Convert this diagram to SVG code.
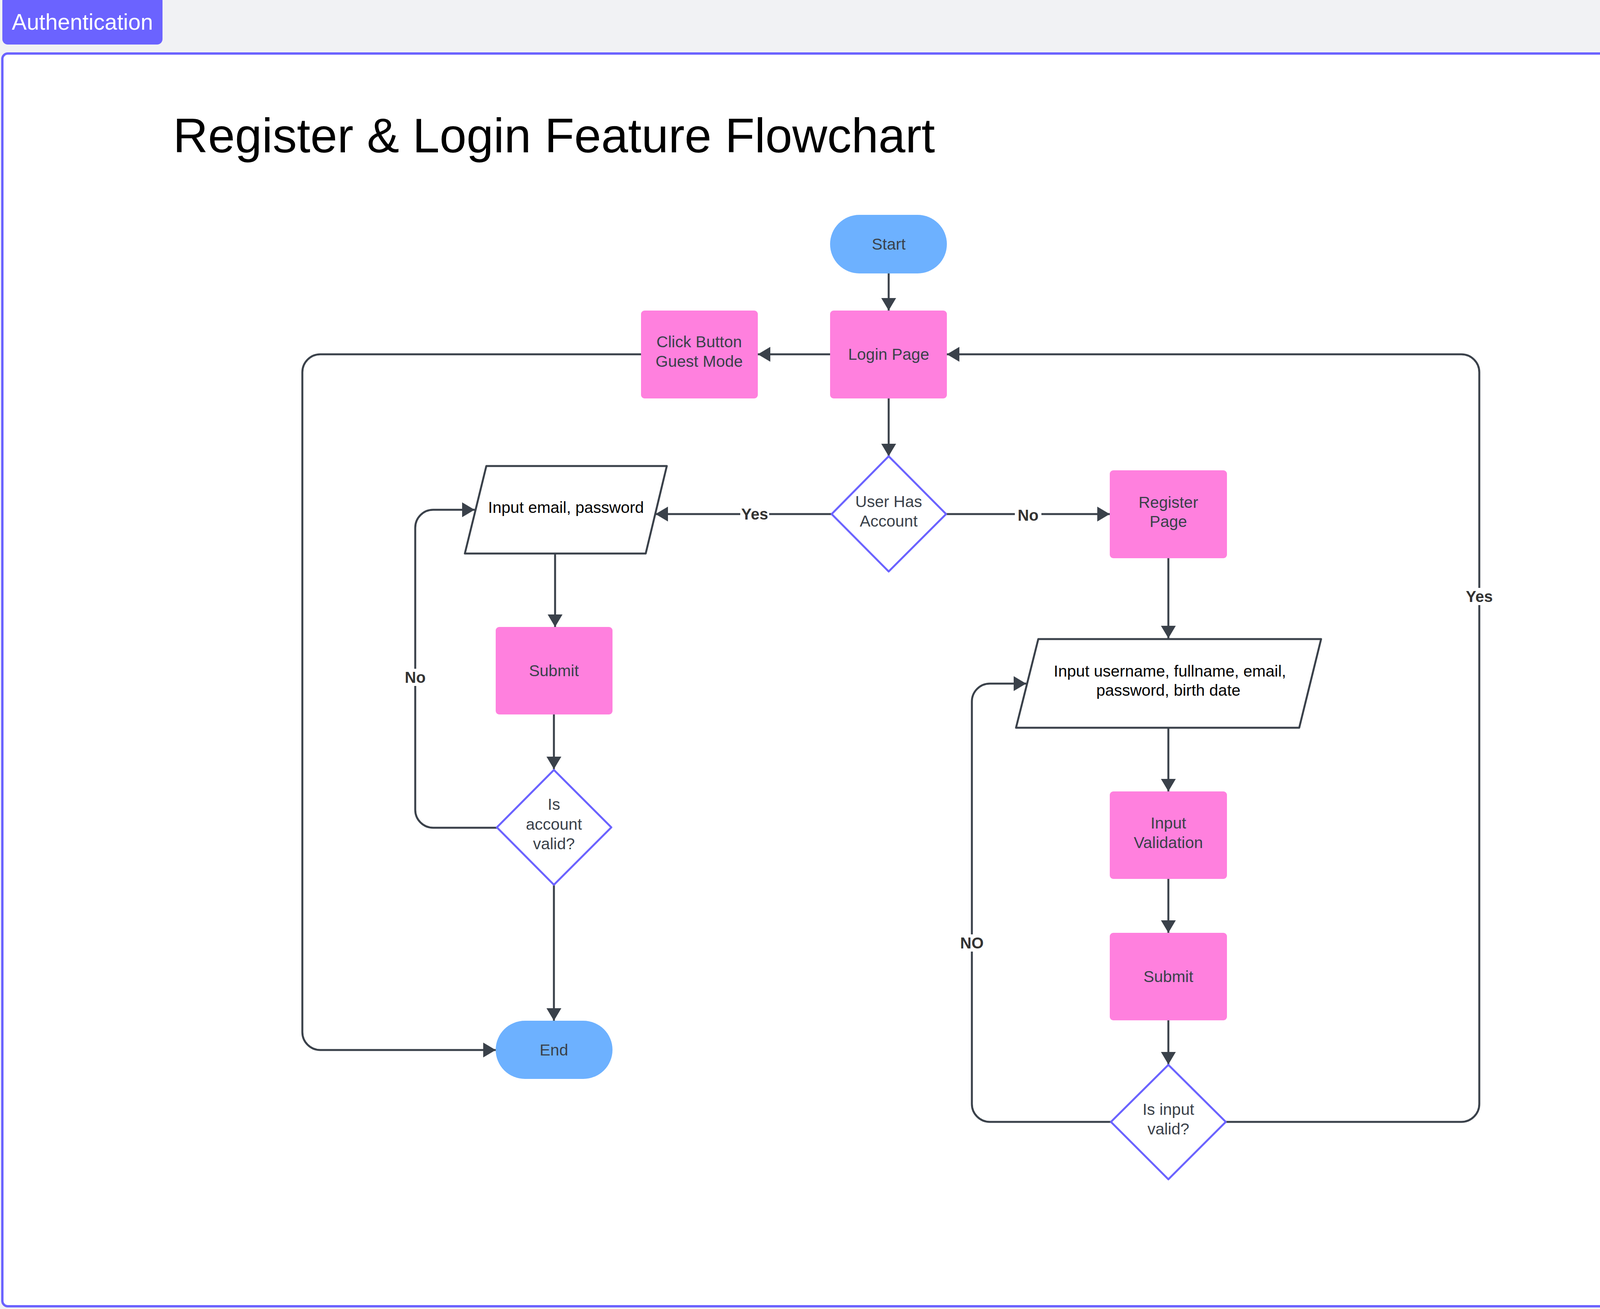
<svg xmlns="http://www.w3.org/2000/svg" width="4550" height="3351" viewBox="0 0 4550 3351">
<style>
.txt{font-family:"Liberation Sans",Arial,sans-serif;font-size:41px;fill:#3a414a;text-anchor:middle}
.ptxt{font-family:"Liberation Sans",Arial,sans-serif;font-size:41px;fill:#000;text-anchor:middle}
.lbl{font-family:"Liberation Sans",Arial,sans-serif;font-size:40px;font-weight:bold;fill:#333333;text-anchor:middle}
.proc{fill:#ff80de}
.term{fill:#6db1ff}
.dec{fill:#fff;stroke:#6b63ff;stroke-width:5;stroke-linejoin:round}
.io{fill:#fff;stroke:#3a414a;stroke-width:5;stroke-linejoin:round}
.con{fill:none;stroke:#3a414a;stroke-width:5}
.arr{marker-end:url(#ah)}
.lbg{fill:#fff}
</style>
<defs>
<marker id="ah" markerUnits="userSpaceOnUse" markerWidth="32" markerHeight="38" refX="32" refY="19" orient="auto">
<path d="M0,0 L32,19 L0,38 z" fill="#3a414a"/>
</marker>
</defs>
<rect x="0" y="0" width="4550" height="3351" fill="#f1f2f4"/>
<g id="tab">
<rect x="6" y="-12" width="410" height="126" rx="14" fill="#6b63ff"/>
<text x="211" y="76" font-family="'Liberation Sans',Arial,sans-serif" font-size="57" fill="#fff" text-anchor="middle">Authentication</text>
</g>
<rect id="frame" x="6" y="137" width="4537" height="3207" rx="14" fill="#fff" stroke="#6b63ff" stroke-width="6"/>
<text id="title" x="443" y="390" font-family="'Liberation Sans',Arial,sans-serif" font-size="124" fill="#000">Register &amp; Login Feature Flowchart</text>

<g id="connectors">
<path class="con arr" d="M2275,700 V795"/>
<path class="con arr" d="M2125,907 H1940"/>
<path class="con arr" d="M1641,907 H820 A46,46 0 0 0 774,953 V2642 A46,46 0 0 0 820,2688 H1269"/>
<path class="con arr" d="M2275,1020 V1168"/>
<path class="con arr" d="M2129,1316 H1678"/>
<path class="con arr" d="M2422,1316 H2841"/>
<path class="con arr" d="M1421,1417 V1605"/>
<path class="con arr" d="M1418,1829 V1969"/>
<path class="con arr" d="M1418,2265 V2613"/>
<path class="con arr" d="M1272,2119 H1109 A46,46 0 0 1 1063,2073 V1351 A46,46 0 0 1 1109,1305 H1215"/>
<path class="con arr" d="M2991,1429 V1634"/>
<path class="con arr" d="M2991,1863 V2026"/>
<path class="con arr" d="M2991,2250 V2388"/>
<path class="con arr" d="M2991,2612 V2725"/>
<path class="con arr" d="M2844,2872 H2534 A46,46 0 0 1 2488,2826 V1796 A46,46 0 0 1 2534,1750 H2627"/>
<path class="con arr" d="M3138,2872 H3741 A46,46 0 0 0 3787,2826 V953 A46,46 0 0 0 3741,907 H2424"/>
<g id="labels">
<rect class="lbg" x="1895" y="1294" width="74" height="44"/>
<text class="lbl" x="1932" y="1330">Yes</text>
<rect class="lbg" x="2598" y="1290" width="68" height="52"/>
<text class="lbl" x="2632" y="1333" font-size="48">No</text>
<rect class="lbg" x="1033" y="1712" width="60" height="44"/>
<text class="lbl" x="1063" y="1748">No</text>
<rect class="lbg" x="3750" y="1505" width="74" height="44"/>
<text class="lbl" x="3787" y="1541">Yes</text>
<rect class="lbg" x="2457" y="2392" width="62" height="44"/>
<text class="lbl" x="2488" y="2428">NO</text>
</g>
</g>

<g id="start">
<rect class="term" x="2125" y="550" width="299" height="150" rx="75"/>
<text class="txt" x="2275" y="639">Start</text>
</g>
<g id="login-page">
<rect class="proc" x="2125" y="795" width="299" height="225" rx="9"/>
<text class="txt" x="2275" y="921">Login Page</text>
</g>
<g id="guest-mode">
<rect class="proc" x="1641" y="795" width="299" height="225" rx="9"/>
<text class="txt" x="1790" y="889">Click Button</text>
<text class="txt" x="1790" y="939">Guest Mode</text>
</g>
<g id="user-has-account">
<path class="dec" d="M2275,1168 L2422,1316 L2275,1463 L2129,1316 Z"/>
<text class="txt" x="2275" y="1298">User Has</text>
<text class="txt" x="2275" y="1348">Account</text>
</g>
<g id="input-email">
<path class="io" d="M1245,1193 L1707,1193 L1653,1417 L1190,1417 Z"/>
<text class="ptxt" x="1449" y="1313">Input email, password</text>
</g>
<g id="submit-login">
<rect class="proc" x="1269" y="1605" width="299" height="224" rx="9"/>
<text class="txt" x="1418" y="1731">Submit</text>
</g>
<g id="account-valid">
<path class="dec" d="M1418,1971 L1565,2118 L1418,2265 L1272,2118 Z"/>
<text class="txt" x="1418" y="2073">Is</text>
<text class="txt" x="1418" y="2124">account</text>
<text class="txt" x="1418" y="2174">valid?</text>
</g>
<g id="end">
<rect class="term" x="1269" y="2613" width="299" height="149" rx="75"/>
<text class="txt" x="1418" y="2702">End</text>
</g>
<g id="register-page">
<rect class="proc" x="2841" y="1204" width="300" height="225" rx="9"/>
<text class="txt" x="2991" y="1300">Register</text>
<text class="txt" x="2991" y="1349">Page</text>
</g>
<g id="input-register">
<path class="io" d="M2658,1636 L3382,1636 L3326,1863 L2601,1863 Z"/>
<text class="ptxt" x="2995" y="1732">Input username, fullname, email,</text>
<text class="ptxt" x="2991" y="1781">password, birth date</text>
</g>
<g id="input-validation">
<rect class="proc" x="2841" y="2026" width="300" height="224" rx="9"/>
<text class="txt" x="2991" y="2121">Input</text>
<text class="txt" x="2991" y="2171">Validation</text>
</g>
<g id="submit-register">
<rect class="proc" x="2841" y="2388" width="300" height="224" rx="9"/>
<text class="txt" x="2991" y="2514">Submit</text>
</g>
<g id="input-valid">
<path class="dec" d="M2991,2726 L3138,2872 L2991,3019 L2844,2872 Z"/>
<text class="txt" x="2991" y="2854">Is input</text>
<text class="txt" x="2991" y="2904">valid?</text>
</g>
</svg>
